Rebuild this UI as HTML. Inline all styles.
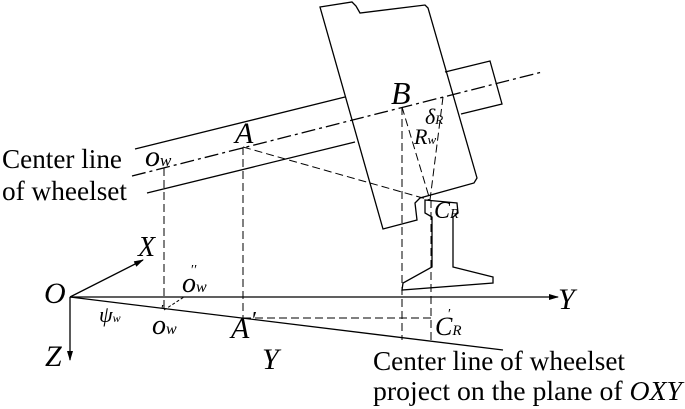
<!DOCTYPE html>
<html><head><style>body{margin:0;background:#fff}svg{display:block}</style></head><body>
<svg width="685" height="409" viewBox="0 0 685 409" xmlns="http://www.w3.org/2000/svg" font-family="Liberation Serif, serif">
<defs><marker id="ar" markerWidth="10" markerHeight="8" refX="9" refY="4" orient="auto" markerUnits="userSpaceOnUse"><path d="M0,1 L10,4 L0,7 Z" fill="#000"/></marker></defs>
<g stroke="#000" stroke-width="1.3" fill="none">
<line x1="135" y1="149" x2="345" y2="97"/>
<line x1="147" y1="193" x2="355" y2="142"/>
<path d="M445,72 L490,61 L502,104 L461,114"/>
<path d="M320,7 L352,2 L356,6 L360,13 L425,5 L428,8 L477,178 L474,183 L420,198 L415,203 L417,220 L383,229 Z"/>
<path d="M425,200 L457,203 L458,213 L453,217 L453,267 L493,277 L493,283 L402,290 L403,283 L432,267 L432,217 L425,213 Z"/>
<line x1="70" y1="297" x2="558" y2="297" marker-end="url(#ar)"/>
<line x1="70" y1="297" x2="70" y2="360" marker-end="url(#ar)"/>
<line x1="70" y1="297" x2="143" y2="260" marker-end="url(#ar)"/>
<line x1="70" y1="297" x2="503" y2="350"/>
</g>
<g stroke="#000" stroke-width="1" fill="none" stroke-dasharray="8,4">
<line x1="132" y1="176" x2="542" y2="72" stroke-width="1.3" stroke-dasharray="14,4,3,4"/>
<line x1="164" y1="168" x2="164" y2="310"/>
<line x1="243" y1="147" x2="243" y2="318"/>
<line x1="243" y1="147" x2="430" y2="200"/>
<line x1="402" y1="107" x2="402" y2="340"/>
<line x1="402" y1="107" x2="430" y2="200"/>
<line x1="443" y1="97" x2="430" y2="200"/>
<line x1="431" y1="200" x2="431" y2="342"/>
<line x1="243" y1="318" x2="431" y2="318"/>
<line x1="164" y1="310" x2="184" y2="297" stroke-dasharray="3,2"/>
</g>
<g fill="#000" font-size="27">
<text x="2" y="168" textLength="120" lengthAdjust="spacingAndGlyphs">Center line</text>
<text x="2" y="200" textLength="125" lengthAdjust="spacingAndGlyphs">of wheelset</text>
<text x="373" y="370" textLength="252" lengthAdjust="spacingAndGlyphs">Center line of wheelset</text>
<text x="373" y="400" textLength="309" lengthAdjust="spacingAndGlyphs">project on the plane of <tspan font-style="italic">OXY</tspan></text>
</g>
<g fill="#000" font-style="italic">
<text x="145" y="166" font-size="30">o<tspan font-size="17">w</tspan></text>
<text x="235" y="143" font-size="30">A</text>
<text x="391" y="104" font-size="32">B</text>
<text x="425" y="124" font-size="22">δ<tspan font-size="13">R</tspan></text>
<text x="414" y="144" font-size="22">R<tspan font-size="13">w</tspan></text>
<text x="434" y="218" font-size="24">C<tspan font-size="14">R</tspan></text>
<text x="138" y="256" font-size="28">X</text>
<text x="44" y="303" font-size="30">O</text>
<text x="182" y="292" font-size="28">o<tspan font-size="16">w</tspan></text>
<text x="191" y="274" font-size="14" font-style="normal">′′</text>
<text x="99" y="322" font-size="22">ψ<tspan font-size="12">w</tspan></text>
<text x="152" y="334" font-size="28">o<tspan font-size="16">w</tspan></text>
<text x="161" y="314" font-size="14" font-style="normal">′</text>
<text x="231" y="338" font-size="30">A</text>
<text x="252" y="328" font-size="24" font-style="normal">′</text>
<text x="45" y="366" font-size="30">Z</text>
<text x="262" y="369" font-size="30">Y</text>
<text x="558" y="309" font-size="30">Y</text>
<text x="435" y="335" font-size="26">C<tspan font-size="15">R</tspan></text>
<text x="448" y="318" font-size="14" font-style="normal">′</text>
</g>
</svg>
</body></html>
